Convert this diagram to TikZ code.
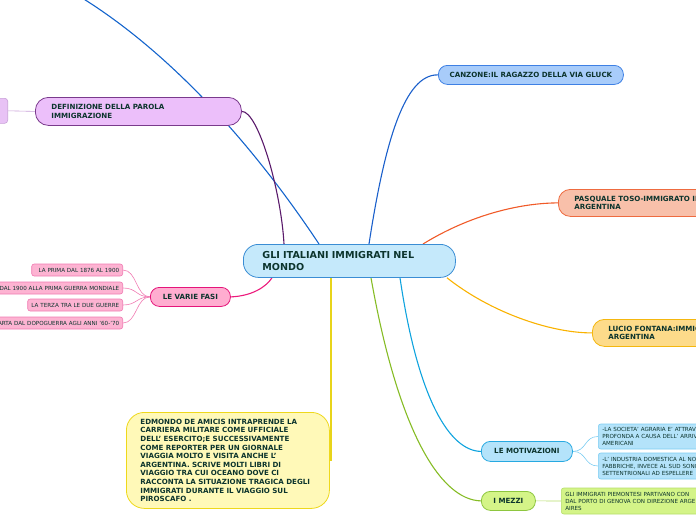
\documentclass[tikz,border=0pt]{standalone}
\usepackage{fontspec}
\setmainfont{DejaVu Sans}
\usetikzlibrary{backgrounds}

\definecolor{ink}{HTML}{0C342D}
\definecolor{rootfill}{HTML}{C5E9FB}
\definecolor{rootline}{HTML}{3A8DD4}
\definecolor{canzfill}{HTML}{A8CCFA}
\definecolor{canzline}{HTML}{3E80E4}
\definecolor{canzwire}{HTML}{1A5FCB}
\definecolor{tosofill}{HTML}{F8C0AA}
\definecolor{tosoline}{HTML}{EE6B40}
\definecolor{tosowire}{HTML}{F05A28}
\definecolor{fontfill}{HTML}{FDDB8A}
\definecolor{fontline}{HTML}{F4B70F}
\definecolor{fontwire}{HTML}{F9B200}
\definecolor{motfill}{HTML}{B4E3FA}
\definecolor{motline}{HTML}{27A9E1}
\definecolor{motwire}{HTML}{0FA3DE}
\definecolor{motsubline}{HTML}{7CCDF2}
\definecolor{mezfill}{HTML}{D4F488}
\definecolor{mezline}{HTML}{8DC63F}
\definecolor{mezwire}{HTML}{86BC25}
\definecolor{mezsubline}{HTML}{B5DE6A}
\definecolor{deffill}{HTML}{ECBFFA}
\definecolor{defline}{HTML}{7A3A8C}
\definecolor{defwire}{HTML}{5A1A6B}
\definecolor{defsubfill}{HTML}{E8C2F5}
\definecolor{defsubline}{HTML}{C8A0D8}
\definecolor{fasifill}{HTML}{FFADD0}
\definecolor{fasiline}{HTML}{E5157A}
\definecolor{fasiwire}{HTML}{EC1A7C}
\definecolor{fasisubfill}{HTML}{FDB3D2}
\definecolor{fasisubline}{HTML}{F07BB2}
\definecolor{amicfill}{HTML}{FFF9B8}
\definecolor{amicline}{HTML}{EED81C}
\definecolor{amicwire}{HTML}{E8D41A}
\definecolor{lostwire}{HTML}{1464CC}

\newcommand*\rootfont{\fontsize{9.6}{11.5}\selectfont\bfseries}
\newcommand*\topicfont{\fontsize{7.1}{8.6}\selectfont\bfseries}
\newcommand*\leaffont{\fontsize{5.6}{7}\selectfont}

\tikzset{
    topic/.style 2 args={
        draw=#1,
        fill=#2,
        line width=0.8pt,
        rounded corners=9pt,
        text=ink,
        font=\topicfont,
        inner sep=0pt,
        anchor=north west,
        align=center
    },
    leaf/.style 2 args={
        draw=#1,
        fill=#2,
        line width=0.6pt,
        rounded corners=2.5pt,
        text=ink,
        font=\leaffont,
        inner xsep=4pt,
        inner ysep=0pt
    },
    branch/.style={line width=1.1pt},
    twig/.style={line width=0.6pt}
}

\begin{document}
\begin{tikzpicture}[x=1pt,y=-1pt]

    \useasboundingbox (0,0) rectangle (696,520);

    % The root in the middle.
    \node[topic={rootline}{rootfill}, font=\rootfont, rounded corners=15pt,
          align=left, text width=174pt, inner xsep=19pt, minimum height=33pt]
        (root) at (243,244) {GLI ITALIANI IMMIGRATI NEL\\MONDO};

    % Topics on the right.
    \node[topic={canzline}{canzfill}, minimum width=185pt, minimum height=19pt]
        (canzone) at (438,65) {CANZONE:IL RAGAZZO DELLA VIA GLUCK};
    \node[topic={tosoline}{tosofill}, rounded corners=12pt, align=left,
          text width=200pt, inner xsep=16pt, minimum height=27pt]
        (toso) at (558,189) {PASQUALE TOSO-IMMIGRATO IN\\ARGENTINA};
    \node[topic={fontline}{fontfill}, rounded corners=12pt, align=left,
          text width=200pt, inner xsep=16pt, minimum height=27pt]
        (fontana) at (592,319) {LUCIO FONTANA:IMMIGRATO IN\\ARGENTINA};
    \node[topic={motline}{motfill}, minimum width=91pt, minimum height=20pt]
        (motiv) at (481,441) {LE MOTIVAZIONI};
    \node[topic={mezline}{mezfill}, minimum width=54pt, minimum height=19pt]
        (mezzi) at (481,491) {I MEZZI};

    % Topics on the left.
    \node[topic={defline}{deffill}, rounded corners=13pt, align=left,
          text width=174pt, inner xsep=16pt, minimum height=28pt]
        (defin) at (35,97) {DEFINIZIONE DELLA PAROLA\\IMMIGRAZIONE};
    \node[topic={fasiline}{fasifill}, minimum width=80pt, minimum height=19pt]
        (fasi) at (150,287) {LE VARIE FASI};
    \node[topic={amicline}{amicfill}, rounded corners=18pt, align=left,
          text width=175pt, inner xsep=14pt, minimum height=96pt]
        (amicis) at (126,412) {EDMONDO DE AMICIS INTRAPRENDE LA\\
        CARRIERA MILITARE COME UFFICIALE\\
        DELL' ESERCITO;E SUCCESSIVAMENTE\\
        COME REPORTER PER UN GIORNALE\\
        VIAGGIA MOLTO E VISITA ANCHE L'\\
        ARGENTINA. SCRIVE MOLTI LIBRI DI\\
        VIAGGIO TRA CUI OCEANO DOVE CI\\
        RACCONTA LA SITUAZIONE TRAGICA DEGLI\\
        IMMIGRATI DURANTE IL VIAGGIO SUL\\
        PIROSCAFO .};

    % Leaves.
    \node[leaf={defsubline}{defsubfill}, anchor=north east, rounded corners=3pt,
          minimum width=40pt, minimum height=25pt] (definsub) at (8,98) {};

    \foreach \i/\y/\w/\txt in {1/270/84/LA PRIMA DAL 1876 AL 1900,
                               2/288/140/DAL 1900 ALLA PRIMA GUERRA MONDIALE,
                               3/305/88/LA TERZA TRA LE DUE GUERRE,
                               4/323/140/ARTA DAL DOPOGUERRA AGLI ANNI '60-'70}
        \node[leaf={fasisubline}{fasisubfill}, anchor=east, inner xsep=3.5pt,
              text width={\w pt}, align=right, minimum height=12pt]
            (fase\i) at (123,\y) {\txt};

    \node[leaf={motsubline}{motfill}, anchor=west, text width=200pt,
          align=left, minimum height=25pt] (motiv1) at (598,436.5)
        {-LA SOCIETA' AGRARIA E' ATTRAVERSATA\\PROFONDA A CAUSA DELL' ARRIVO\\AMERICANI};
    \node[leaf={motsubline}{motfill}, anchor=west, text width=200pt,
          align=left, minimum height=26pt] (motiv2) at (598,466)
        {-L' INDUSTRIA DOMESTICA AL NORD\\FABBRICHE, INVECE AL SUD SONO\\SETTENTRIONALI AD ESPELLERE};
    \node[leaf={mezsubline}{mezfill}, anchor=west, text width=200pt,
          align=left, minimum height=26pt] (mezzi1) at (561,501)
        {GLI IMMIGRATI PIEMONTESI PARTIVANO CON\\DAL PORTO DI GENOVA CON DIREZIONE ARGENTINA\\AIRES};

    % Connectors go under the boxes.
    \begin{scope}[on background layer]
        \clip (0,0) rectangle (696,520);
        \coordinate (lost) at (60,-15);

        \draw[branch, lostwire] ([xshift=76pt]root.north west)
            .. controls (250,140) and (160,40) .. (lost);
        \draw[branch, defwire] (defin.east)
            .. controls (258,111) and (281,190) .. ([xshift=41pt]root.north west);
        \draw[branch, canzwire] ([xshift=126pt]root.north west)
            .. controls (385,140) and (405,74) .. (canzone.west);
        \draw[branch, tosowire] ([xshift=180pt]root.north west)
            .. controls (470,215) and (520,203) .. (toso.west);
        \draw[branch, fontwire] ([xshift=204pt]root.south west)
            .. controls (490,312) and (550,333) .. (fontana.west);
        \draw[branch, motwire] ([xshift=157pt]root.south west)
            .. controls (418,400) and (450,451) .. (motiv.west);
        \draw[branch, mezwire] ([xshift=128pt]root.south west)
            .. controls (398,430) and (440,500) .. (mezzi.west);
        \draw[branch, amicwire] ([xshift=88pt]root.south west) |- (amicis.east);
        \draw[branch, fasiwire] (fasi.east)
            .. controls (252,296) and (266,287) .. ([xshift=29pt]root.south west);

        % Thin ones to the leaves.
        \draw[twig, defsubline] (defin.west) -- (definsub.east);
        \foreach \i in {1,...,4}
            \draw[twig, fasisubline] (fasi.west) .. controls +(-14,0) and +(14,0) .. (fase\i.east);
        \draw[twig, motsubline] (motiv.east) .. controls +(14,0) and +(-14,0) .. (motiv1.west);
        \draw[twig, motsubline] (motiv.east) .. controls +(14,0) and +(-14,0) .. (motiv2.west);
        \draw[twig, mezsubline] (mezzi.east) -- (mezzi1.west);
    \end{scope}

\end{tikzpicture}
\end{document}
